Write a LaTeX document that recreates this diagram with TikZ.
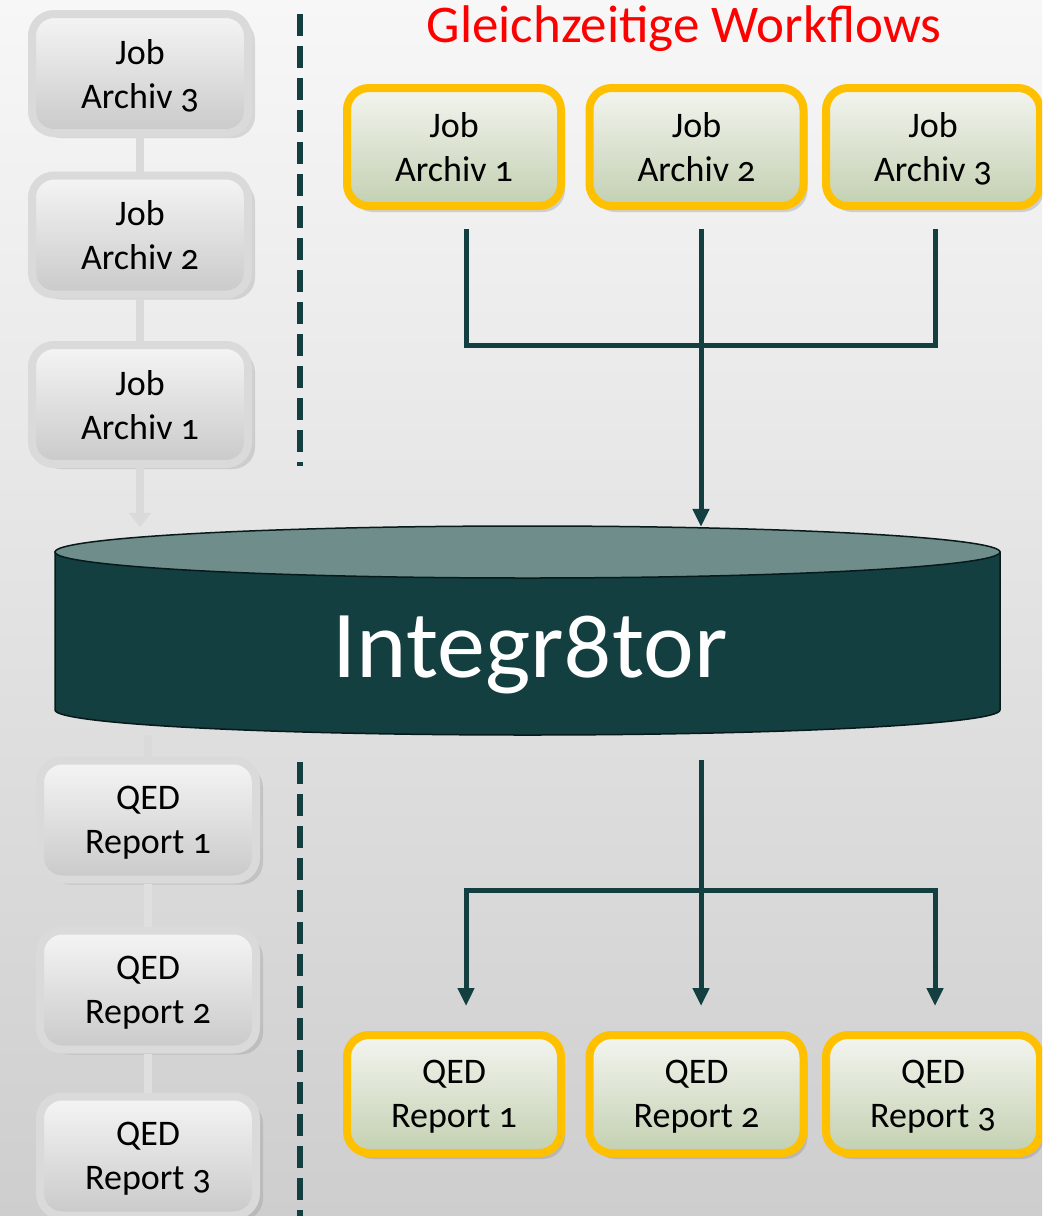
\documentclass[tikz,border=0pt]{standalone}
\usepackage{fontspec}
\setmainfont{Carlito}[Numbers=OldStyle]
\usetikzlibrary{arrows.meta,shadows}
\definecolor{dbteal}{HTML}{143F40}
\definecolor{dbtop}{HTML}{6F8D8B}
\definecolor{wfgold}{HTML}{FFC000}
\definecolor{wftop}{HTML}{F3F5F0}
\definecolor{wfbottom}{HTML}{C3D0B1}
\definecolor{boxgrey}{HTML}{DADADA}
\definecolor{faintgrey}{HTML}{DFDFDF}
\definecolor{bgtop}{HTML}{F7F7F7}
\definecolor{bgbottom}{HTML}{CECECE}
\newcommand{\boxfont}{\fontsize{36}{44}\selectfont}
\tikzset{
  leftbox/.style={rectangle, rounded corners=22pt, draw=boxgrey, line width=8pt,
    top color=white!96!black, bottom color=black!21, minimum width=216pt,
    minimum height=119pt, align=center, font=\boxfont, inner sep=0pt,
    text depth=0pt,
    drop shadow={shadow xshift=7pt, shadow yshift=-5pt, opacity=.25}},
  wfbox/.style={rectangle, rounded corners=22pt, draw=wfgold, line width=8pt,
    top color=wftop, bottom color=wfbottom, minimum width=214pt,
    minimum height=118pt, align=center, font=\boxfont, inner sep=0pt,
    text depth=0pt,
    drop shadow={shadow xshift=4pt, shadow yshift=-6pt, opacity=.3}},
  link/.style={draw=dbteal, line width=5pt},
  greylink/.style={draw=boxgrey, line width=8pt},
  sepline/.style={draw=dbteal, line width=6pt, dash pattern=on 22pt off 10pt},
  tip/.style={-{Triangle[length=18pt,width=16pt]}}
}

\begin{document}
\begin{tikzpicture}[x=1pt,y=1pt]
\useasboundingbox (0,0) rectangle (1042,-1216);
\clip (0,0) rectangle (1042,-1216);
\shade[top color=bgtop, bottom color=bgbottom] (0,0) rectangle (1042,-1216);

% sequential jobs on the left
\node[leftbox] (la3) at (140,-73.5) {Job\\Archiv 3};
\node[leftbox] (la2) at (140,-235) {Job\\Archiv 2};
\node[leftbox] (la1) at (140,-404.5) {Job\\Archiv 1};
\node[leftbox] (lr1) at (148,-820) {QED\\Report 1};
\node[leftbox] (lr2) at (148,-990) {QED\\Report 2};
\node[leftbox] (lr3) at (148,-1156) {QED\\Report 3};

% database
\node[minimum width=945pt, minimum height=208pt, inner sep=0pt] (db) at (527.5,-631) {};
\draw[greylink] (la3.south) -- (la2.north);
\draw[greylink] (la2.south) -- (la1.north);
\draw[greylink, -{Triangle[length=14pt,width=22pt]}] (la1.south) -- (la1.south |- db.north);
\draw[draw=faintgrey, line width=8pt] (lr1.south) -- (lr2.north);
\draw[draw=faintgrey, line width=8pt] (lr2.south) -- (lr3.north);
\draw[greylink] (lr1.north |- db.south) -- (lr1.north);

\filldraw[fill=dbteal, draw=black!60!dbteal, line width=1.5pt]
  (55,-552) -- (55,-710) arc[start angle=180, end angle=360, x radius=472.5pt, y radius=25pt]
  -- (1000,-552) -- cycle;
\filldraw[fill=dbtop, draw=black!60!dbteal, line width=1.5pt]
  (527.5,-552) ellipse[x radius=472.5pt, y radius=26pt];
\node[text=white, font=\fontsize{96}{110}\selectfont, anchor=base] (dbname) at (530,-677) {Integr8tor};

% dashed separators
\draw[sepline] (300,-14) -- (300,-466);
\draw[sepline] (300,-762) -- (300,-1216);

% concurrent workflows
\node[text=red, font=\fontsize{53}{60}\selectfont, anchor=base] (title) at (684,-42) {Gleichzeitige Workflows};
\node[wfbox] (ja1) at (454,-147) {Job\\Archiv 1};
\node[wfbox] (ja2) at (696.5,-147) {Job\\Archiv 2};
\node[wfbox] (ja3) at (933,-147) {Job\\Archiv 3};
\node[wfbox] (qr1) at (454,-1094) {QED\\Report 1};
\node[wfbox] (qr2) at (696.5,-1094) {QED\\Report 2};
\node[wfbox] (qr3) at (933,-1094) {QED\\Report 3};

\coordinate (merge) at (701,-345);
\coordinate (split) at (701,-890);
\draw[link, shorten <=19pt] ([xshift=12pt]ja1.south) |- (merge);
\draw[link, shorten <=19pt] ([xshift=2pt]ja3.south) |- (merge);
\draw[link, tip, shorten <=19pt] (merge |- ja2.south) -- (merge |- db.north);
\draw[link, tip, shorten <=25pt, shorten >=25pt] (split |- db.south) -- (split |- qr2.north);
\draw[link, tip, shorten >=25pt] (split) -| ([xshift=12pt]qr1.north);
\draw[link, tip, shorten >=25pt] (split) -| ([xshift=2pt]qr3.north);
\end{tikzpicture}
\end{document}
